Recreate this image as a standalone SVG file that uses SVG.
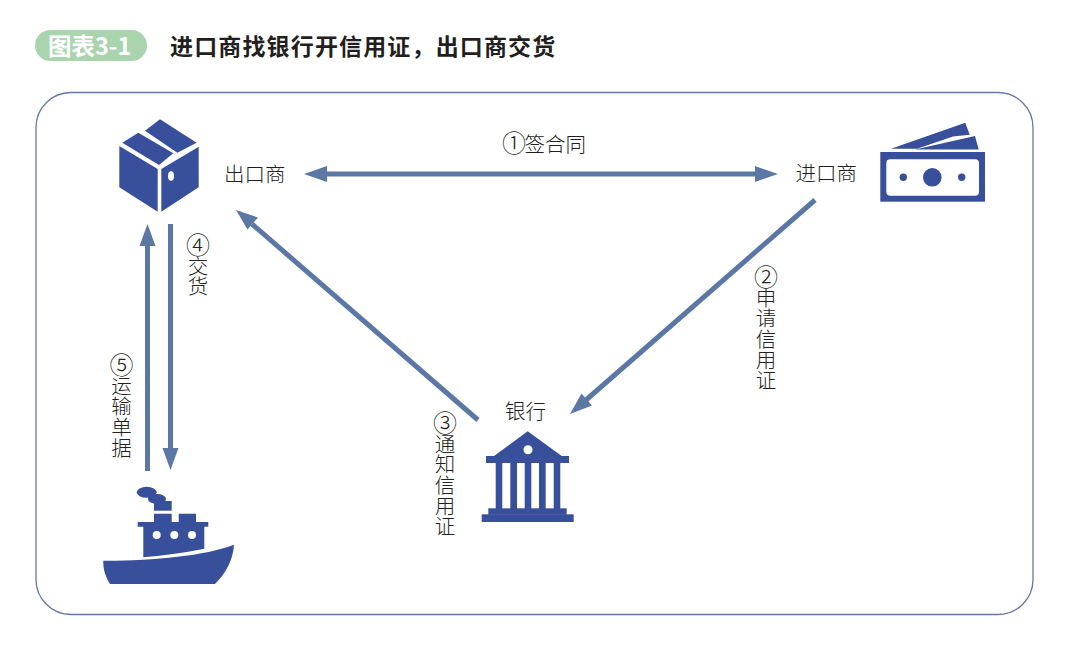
<svg xmlns="http://www.w3.org/2000/svg" width="1071" height="649" viewBox="0 0 1071 649">
<style>
text{font-family:"Noto Sans CJK SC","Noto Sans",sans-serif;}
.l{font-size:20.500px;fill:#231f20;font-weight:300;}
.v{font-size:20.500px;fill:#231f20;font-weight:300;writing-mode:vertical-rl;text-orientation:upright;letter-spacing:.2px;}
.n{font-size:24px;letter-spacing:-1.500px;}
.i{fill:#38509b;}
.w{fill:#fff;}
.c{stroke:#5b78a5;stroke-width:5;fill:none;}
.h{fill:#5b78a5;}
</style>
<rect width="1071" height="649" fill="#fff"/>
<g id="header">
<rect x="35" y="30" width="112" height="31" rx="15.5" fill="#a9d4ae"/>
<text x="48" y="55" font-size="23.500" font-weight="700" fill="#fff">图表3-1</text>
<text x="170" y="55" font-size="23" font-weight="700" fill="#231f20" letter-spacing="1.150">进口商找银行开信用证，出口商交货</text>
</g>
<rect id="frame" x="36" y="92.500" width="997" height="522" rx="35" fill="none" stroke="#6478a5" stroke-width="1.300"/>
<g id="connectors">
<line class="c" x1="322" y1="174" x2="760" y2="174"/>
<polygon class="h" points="304,174 327,166 327,182"/>
<polygon class="h" points="778,174 755,166 755,182"/>
<line class="c" x1="815" y1="200" x2="586" y2="400"/>
<polygon class="h" points="570,414 581.500,393.500 592,405.500"/>
<line class="c" x1="478" y1="420" x2="252" y2="224"/>
<polygon class="h" points="236,210 258,217.500 247.500,229.500"/>
<line class="c" x1="147.500" y1="471" x2="147.500" y2="240"/>
<polygon class="h" points="147.500,224 139.500,246 155.500,246"/>
<line class="c" x1="170.500" y1="224" x2="170.500" y2="450"/>
<polygon class="h" points="170.500,470 162.500,448 178.500,448"/>
</g>
<g id="exporter">
<polygon class="i" points="160,119.300 196.700,142.700 177.300,152.700 145,130.700"/>
<polygon class="i" points="138.300,132.700 173.300,153.300 159,165 122.300,142.700"/>
<polygon class="i" points="119.300,146 157.700,169 157.700,211.700 119.300,187.300"/>
<polygon class="i" points="198.700,146.700 198.700,187.300 161.300,211.700 161.300,169"/>
<ellipse class="w" cx="171" cy="176" rx="3" ry="4.700"/>
<text class="l" x="224" y="182">出口商</text>
</g>
<g id="importer">
<polygon class="i" points="891,148.700 965.300,122.700 969.700,134.700 953,136.500 917,148.700"/>
<polygon class="i" points="915,149.500 975,136 978.700,149.500"/>
<rect class="i" x="880.300" y="152" width="104.700" height="49.700"/>
<rect class="w" x="886.300" y="159.300" width="92.700" height="36.400" rx="4"/>
<circle class="i" cx="903.300" cy="177.300" r="3.700"/>
<circle class="i" cx="932.300" cy="177.300" r="9.300"/>
<circle class="i" cx="961.700" cy="177.300" r="3.700"/>
<text class="l" x="795.500" y="181">进口商</text>
</g>
<g id="bank">
<polygon class="i" points="527.700,431.300 561.700,456 569,456 569,463 486,463 486,456 494,456"/>
<circle class="w" cx="528" cy="449.700" r="4.500"/>
<rect class="i" x="495.700" y="463" width="6.600" height="46"/>
<rect class="i" x="510.300" y="463" width="6.700" height="46"/>
<rect class="i" x="524.700" y="463" width="6.600" height="46"/>
<rect class="i" x="539" y="463" width="6.700" height="46"/>
<rect class="i" x="553.700" y="463" width="6.600" height="46"/>
<rect class="i" x="488.300" y="508.300" width="78.400" height="6.500"/>
<rect class="i" x="481.700" y="514.300" width="92" height="7.700"/>
<text class="l" x="505" y="419">银行</text>
</g>
<g id="ship">
<path class="i" d="M103.300 560.700C150 561 205 556 234 544.700C233 560 226 573 215 584L110 584C105 576 103 568 103.300 560.700Z"/>
<path class="i" d="M143.300 557.300V526.700H137.700V522H154V513.700H171.700V522H178.700V513.700H196V522H208.300V526.700H204.300V548.700C185 552.500 165 555.500 143.300 557.300Z"/>
<circle class="w" cx="156.700" cy="535" r="4"/>
<circle class="w" cx="174.300" cy="535" r="4"/>
<circle class="w" cx="192" cy="535" r="4"/>
<path class="i" d="M154 501H171.700V510.700H154Z"/>
<ellipse class="i" cx="146.700" cy="492.300" rx="10" ry="5.500"/>
<ellipse class="i" cx="157" cy="499" rx="9" ry="5"/>
</g>
<g id="labels">
<text class="l" x="502" y="152"><tspan class="n">①</tspan>签合同</text>
<text class="v" x="766" y="265"><tspan class="n">②</tspan>申请信用证</text>
<text class="v" x="445" y="411"><tspan class="n">③</tspan>通知信用证</text>
<text class="v" x="198" y="233"><tspan class="n">④</tspan>交货</text>
<text class="v" x="121.500" y="353"><tspan class="n">⑤</tspan>运输单据</text>
</g>
</svg>
